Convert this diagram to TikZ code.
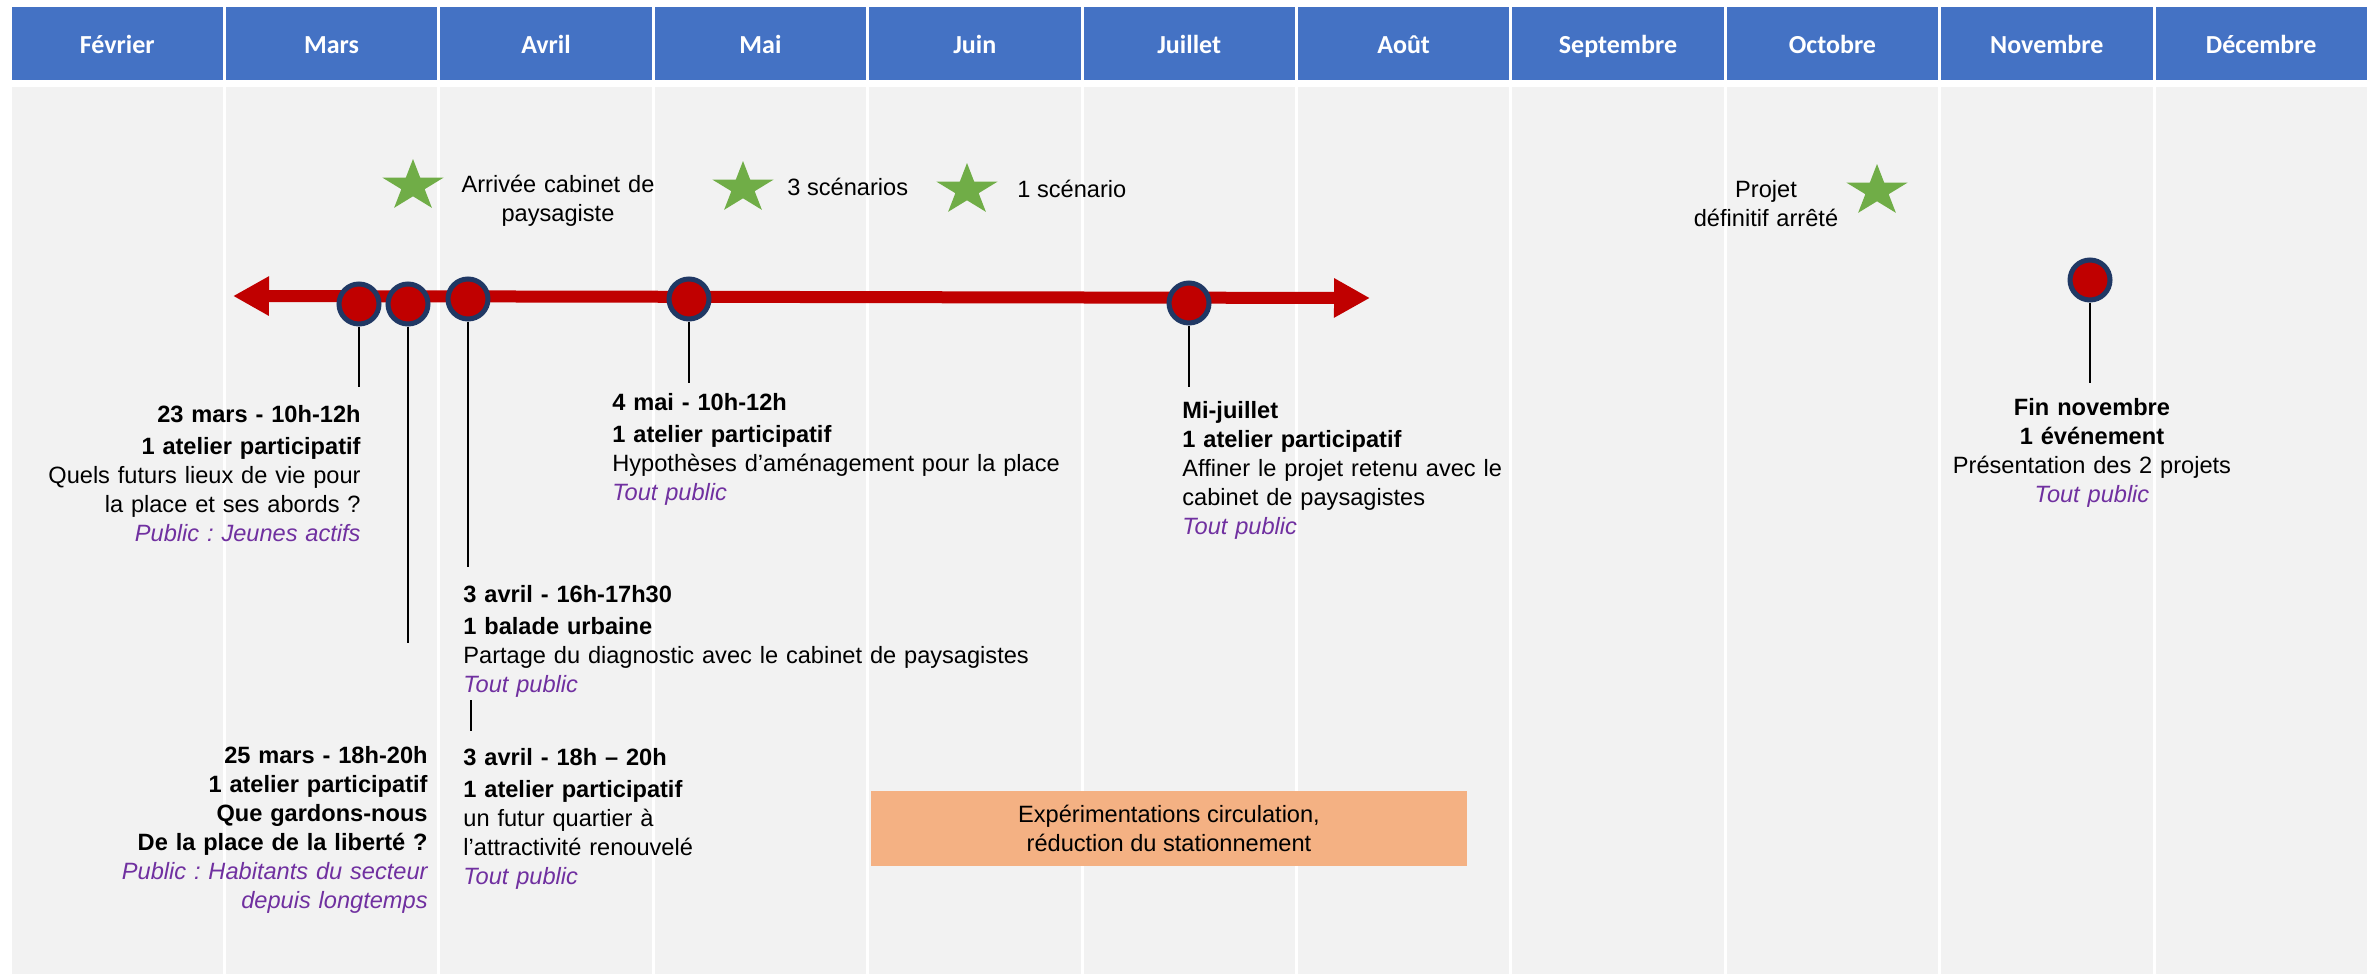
\documentclass[tikz,border=0pt]{standalone}
\usepackage{fontspec}
\setmainfont{Liberation Sans}
\newfontfamily\calibri{Carlito}
\usepackage{xcolor}
\usetikzlibrary{arrows.meta}
\frenchspacing

\definecolor{bleumois}{HTML}{4472C4}
\definecolor{grisfond}{HTML}{F2F2F2}
\definecolor{rougefrise}{HTML}{C00000}
\definecolor{marine}{HTML}{203864}
\definecolor{vertetoile}{HTML}{70AD47}
\definecolor{orangebloc}{HTML}{F4B183}
\definecolor{violetpublic}{HTML}{7030A0}

\newcommand{\public}[1]{\textcolor{violetpublic}{\itshape #1}}

\begin{document}
\begin{tikzpicture}[x=1pt,y=-1pt,thick,
    mois/.style={fill=bleumois,text=white,font=\calibri\bfseries\fontsize{26}{30}\selectfont,minimum width=211.4pt,minimum height=73pt,inner sep=0pt,text height=24pt,text depth=3pt},
    jalon/.style={circle,fill=rougefrise,draw=marine,line width=5pt,minimum size=40pt,inner sep=0pt},
    tige/.style={draw=black,line width=2pt},
    frise/.style={draw=rougefrise,line width=12pt,{Triangle[length=36pt,width=37pt]}-{Triangle[length=36pt,width=37pt]}},
    texte/.style={font=\fontsize{23.6}{29}\selectfont,inner sep=0pt},
    bloc/.style={texte,text width=600pt},
    etoile/.pic={\fill[vertetoile,xscale=1.19] (-90:27) -- (-54:10.3) -- (-18:27) -- (18:10.3) -- (54:27) -- (90:10.3) -- (126:27) -- (162:10.3) -- (198:27) -- (234:10.3) -- cycle;}]

    \fill[white] (0,0) rectangle (2377,974);
    \useasboundingbox (0,0) rectangle (2377,974);

    % colonnes des mois
    \foreach \m [count=\i from 0] in {Février,Mars,Avril,Mai,Juin,Juillet,Août,Septembre,Octobre,Novembre,Décembre}{
        \node[mois] (m\i) at ({117.2+214.4*\i},43.5) {\m};
        \fill[grisfond] ({11.5+214.4*\i},87) rectangle ({8.5+214.4*(\i+1)},974);
    }

    \coordinate (g) at (233,296);
    \coordinate (d) at (1370,298);
    \draw[frise] (g) -- (d);

    \node[jalon] (1) at (359,304) {};
    \node[jalon] (2) at (408,304) {};
    \node[jalon] (3) at (468,299) {};
    \node[jalon] (4) at (689,299) {};
    \node[jalon] (5) at (1189,303) {};
    \node[jalon] (6) at (2090,280) {};

    \coordinate (a1) at (359,387);
    \coordinate (a2) at (408,643);
    \coordinate (a3) at (468,567);
    \coordinate (a4) at (689,383);
    \coordinate (a5) at (1189,387);
    \coordinate (a6) at (2090,383);
    \coordinate (a7) at (471,700);
    \coordinate (a8) at (471,731);

    \draw[tige] (1) -- (a1);
    \draw[tige] (2) -- (a2);
    \draw[tige] (3) -- (a3);
    \draw[tige] (4) -- (a4);
    \draw[tige] (5) -- (a5);
    \draw[tige] (6) -- (a6);
    \draw[tige] (a7) -- (a8);

    \pic at (413,186) {etoile};
    \pic at (743,188) {etoile};
    \pic at (967,190) {etoile};
    \pic at (1877,191) {etoile};

    \node[bloc,align=center,anchor=base] (e1) at (558,192) {Arrivée cabinet de\\paysagiste};
    \node[texte,anchor=base west] (e2) at (787,195) {3 scénarios};
    \node[texte,anchor=base west] (e3) at (1017,197) {1 scénario};
    \node[bloc,align=center,anchor=base] (e4) at (1766,197) {Projet\\définitif arrêté};

    \node[bloc,align=right,anchor=base east] (b1) at (361,422) {\textbf{23 mars - 10h-12h}\\[3pt]\textbf{1 atelier participatif}\\Quels futurs lieux de vie pour\\la place et ses abords ?\\\public{Public : Jeunes actifs}};
    \node[bloc,align=right,anchor=base east] (b2) at (428,763) {\textbf{25 mars - 18h-20h}\\\textbf{1 atelier participatif}\\\textbf{Que gardons-nous}\\\textbf{De la place de la liberté ?}\\\public{Public : Habitants du secteur}\\\public{depuis longtemps}};
    \node[bloc,align=left,anchor=base west] (b3) at (463,602) {\textbf{3 avril - 16h-17h30}\\[3pt]\textbf{1 balade urbaine}\\Partage du diagnostic avec le cabinet de paysagistes\\\public{Tout public}};
    \node[bloc,align=left,anchor=base west] (b4) at (463,765) {\textbf{3 avril - 18h – 20h}\\[3pt]\textbf{1 atelier participatif}\\un futur quartier à\\l’attractivité renouvelé\\\public{Tout public}};
    \node[bloc,align=left,anchor=base west] (b5) at (612,410) {\textbf{4 mai - 10h-12h}\\[3pt]\textbf{1 atelier participatif}\\Hypothèses d’aménagement pour la place\\\public{Tout public}};
    \node[bloc,align=left,anchor=base west] (b6) at (1182,418) {\textbf{Mi-juillet}\\\textbf{1 atelier participatif}\\Affiner le projet retenu avec le\\cabinet de paysagistes\\\public{Tout public}};
    \node[bloc,align=center,anchor=base] (b7) at (2092,415) {\textbf{Fin novembre}\\\textbf{1 événement}\\Présentation des 2 projets\\\public{Tout public}};

    \node[texte,fill=orangebloc,minimum width=596pt,minimum height=75pt,align=center] (x) at (1169,828.5) {Expérimentations circulation,\\réduction du stationnement};

\end{tikzpicture}
\end{document}
